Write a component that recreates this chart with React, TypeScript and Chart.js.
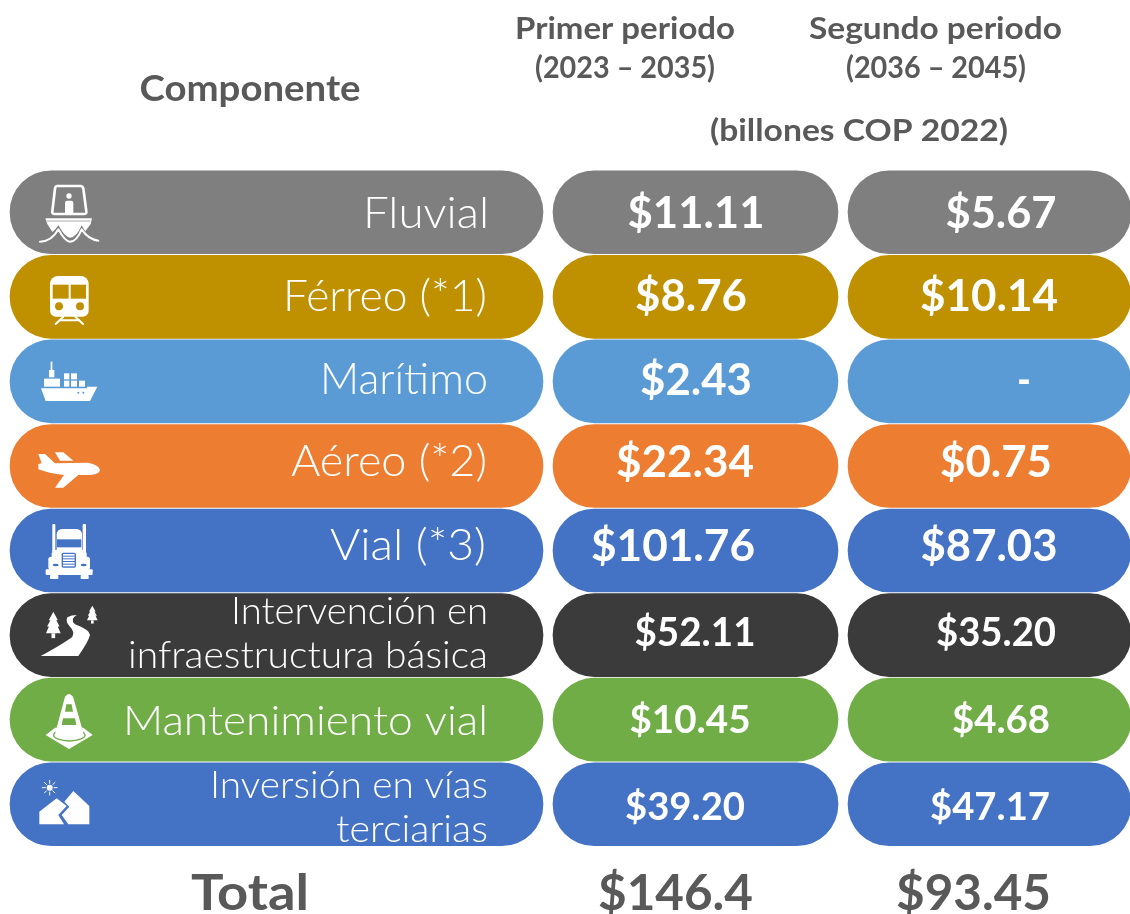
import React, { useEffect, useRef } from "react";
import { Chart, registerables } from "chart.js";

Chart.register(...registerables);

// ---- data ----
const components = ["Fluvial", "Férreo (*1)", "Marítimo", "Aéreo (*2)", "Vial (*3)", "Intervención en infraestructura básica", "Mantenimiento vial", "Inversión en vías terciarias"];
const componentLines = [["Fluvial"], ["Férreo (*1)"], ["Marítimo"], ["Aéreo (*2)"], ["Vial (*3)"], ["Intervención en", "infraestructura básica"], ["Mantenimiento vial"], ["Inversión en vías", "terciarias"]];
const firstPeriod = ["$11.11", "$8.76", "$2.43", "$22.34", "$101.76", "$52.11", "$10.45", "$39.20"];
const secondPeriod = ["$5.67", "$10.14", "-", "$0.75", "$87.03", "$35.20", "$4.68", "$47.17"];
const totals = ["Total", "$146.4", "$93.45"];
const headerComponent = "Componente";
const headerFirst = ["Primer periodo", "(2023 – 2035)"];
const headerSecond = ["Segundo periodo", "(2036 – 2045)"];
const headerUnit = "(billones COP 2022)";

// ---- layout / style ----
const FONT = "Lato, 'Open Sans', sans-serif";
const GREY = "#595959";
const rowColors = ["#7F7F7F", "#BF9000", "#5B9BD5", "#ED7D31", "#4472C4", "#3B3B3B", "#70AD47", "#4472C4"];
const columnSpans: [number, number][] = [[10, 543], [553, 838], [848, 1131]];
const firstCenters = [696, 691, 696, 685, 673, 695, 690, 685];
const secondCenters = [1001, 989, 1024, 996, 989, 996, 1001, 990];
const firstWidths = [137, 112, 112, 138, 164, 121, 121, 120];
const secondWidths = [111, 138, 14, 112, 137, 120, 98, 120];
const valueSizes = [44, 44, 44, 44, 44, 40, 38, 38];
const valueDy = [2, 0, -1, -3, -4, -2, 1, 4];
const labelDy = [2, 0, -2, -4, -5, 0, 2, 5];
const labelRights = [489, 487, 488, 487, 486, 488, 488, 488];
const labelWidths = [126, 204, 168, 196, 156, 257, 365, 278];

type T = { s: string; x: number; y: number; w: number; size: number; weight: number; color: string; align: CanvasTextAlign };

function put(ctx: CanvasRenderingContext2D, t: T) {
  ctx.save();
  ctx.font = `${t.weight} ${t.size}px ${FONT}`;
  ctx.textBaseline = "middle";
  ctx.textAlign = "left";
  ctx.fillStyle = t.color;
  const m = ctx.measureText(t.s).width;
  const k = t.w > 0 ? t.w / m : 1;
  const w = m * k;
  const left = t.align === "center" ? t.x - w / 2 : t.align === "right" ? t.x - w : t.x;
  ctx.translate(left, t.y);
  ctx.scale(k, 1);
  ctx.fillText(t.s, 0, 0);
  ctx.restore();
}

function poly(ctx: CanvasRenderingContext2D, pts: number[]) {
  ctx.beginPath();
  ctx.moveTo(pts[0], pts[1]);
  for (let i = 2; i < pts.length; i += 2) ctx.lineTo(pts[i], pts[i + 1]);
  ctx.closePath();
  ctx.fill();
}
function rect(ctx: CanvasRenderingContext2D, x0: number, y0: number, x1: number, y1: number, r: any = 0) {
  ctx.beginPath();
  ctx.roundRect(x0, y0, x1 - x0, y1 - y0, r);
  ctx.fill();
}
function dot(ctx: CanvasRenderingContext2D, x: number, y: number, r: number) {
  ctx.beginPath();
  ctx.arc(x, y, r, 0, Math.PI * 2);
  ctx.fill();
}
function seg(ctx: CanvasRenderingContext2D, x0: number, y0: number, x1: number, y1: number) {
  ctx.beginPath();
  ctx.moveTo(x0, y0);
  ctx.lineTo(x1, y1);
  ctx.stroke();
}

function tree(ctx: CanvasRenderingContext2D, c: number, top: number, hw: number, h: number) {
  poly(ctx, [c, top, c + hw * 0.62, top + h * 0.4, c + hw * 0.4, top + h * 0.4, c + hw * 0.85, top + h * 0.68, c + hw * 0.6, top + h * 0.68, c + hw, top + h, c - hw, top + h, c - hw * 0.6, top + h * 0.68, c - hw * 0.85, top + h * 0.68, c - hw * 0.4, top + h * 0.4, c - hw * 0.62, top + h * 0.4]);
  rect(ctx, c - hw * 0.25, top + h, c + hw * 0.25, top + h * 1.22);
}

// Icons are written in the 3x space of a crop with its origin at (10, oy).
function drawIcons(ctx: CanvasRenderingContext2D) {
  const W = "#FFFFFF";
  const withCrop = (oy: number, fn: () => void) => {
    ctx.save();
    ctx.translate(10, oy);
    ctx.scale(1 / 3, 1 / 3);
    ctx.fillStyle = W;
    ctx.strokeStyle = W;
    ctx.lineCap = "round";
    ctx.lineJoin = "round";
    fn();
    ctx.restore();
  };
  // boat + train
  withCrop(170, () => {
    ctx.lineWidth = 8;
    ctx.beginPath();
    ctx.moveTo(142, 48); ctx.lineTo(212, 48); ctx.quadraticCurveTo(218, 48, 220, 56);
    ctx.lineTo(229, 124); ctx.quadraticCurveTo(230, 132, 222, 132);
    ctx.lineTo(134, 132); ctx.quadraticCurveTo(126, 132, 127, 124);
    ctx.lineTo(135, 56); ctx.quadraticCurveTo(136, 48, 142, 48); ctx.closePath();
    ctx.stroke();
    dot(ctx, 177, 78, 8);
    rect(ctx, 165, 92, 190, 130, [6, 6, 0, 0]);
    ctx.beginPath();
    ctx.moveTo(106, 145); ctx.lineTo(246, 145); ctx.lineTo(242, 162); ctx.lineTo(226, 184);
    ctx.quadraticCurveTo(220, 176, 215, 166); ctx.quadraticCurveTo(200, 202, 180, 203);
    ctx.quadraticCurveTo(165, 202, 145, 166); ctx.quadraticCurveTo(138, 178, 127, 186);
    ctx.lineTo(112, 162); ctx.closePath(); ctx.fill();
    ctx.beginPath();
    ctx.moveTo(90, 215); ctx.quadraticCurveTo(125, 215, 145, 178);
    ctx.quadraticCurveTo(165, 215, 180, 215); ctx.quadraticCurveTo(200, 215, 215, 178);
    ctx.quadraticCurveTo(235, 208, 265, 212);
    ctx.strokeStyle = W; ctx.lineWidth = 6; ctx.stroke();
    ctx.strokeStyle = rowColors[0]; ctx.lineWidth = 2; seg(ctx, 112, 153, 240, 153);
    // train
    ctx.strokeStyle = W;
    rect(ctx, 120, 318, 236, 440, [24, 24, 18, 18]);
    ctx.fillStyle = rowColors[1];
    rect(ctx, 128, 344, 176, 386);
    rect(ctx, 182, 344, 228, 386);
    dot(ctx, 147, 409, 12);
    dot(ctx, 210, 409, 12);
    ctx.fillStyle = W;
    ctx.lineWidth = 6;
    seg(ctx, 160, 440, 137, 462);
    seg(ctx, 196, 440, 219, 462);
    seg(ctx, 150, 451, 206, 451);
  });
  // ship + plane
  withCrop(340, () => {
    rect(ctx, 122, 65, 127, 90);
    rect(ctx, 117, 90, 133, 112);
    rect(ctx, 102, 116, 150, 140);
    rect(ctx, 162, 100, 178, 118);
    rect(ctx, 183, 100, 201, 118);
    rect(ctx, 162, 122, 178, 140);
    rect(ctx, 183, 122, 201, 140);
    rect(ctx, 207, 122, 225, 140);
    poly(ctx, [93, 145, 230, 145, 232, 140, 262, 140, 240, 183, 107, 183]);
    ctx.fillStyle = rowColors[2];
    dot(ctx, 205, 158, 3);
    dot(ctx, 220, 158, 3);
    ctx.fillStyle = W;
    poly(ctx, [135, 337, 160, 337, 190, 362, 150, 362]);
    ctx.beginPath();
    ctx.moveTo(85, 342); ctx.lineTo(105, 342); ctx.lineTo(135, 370); ctx.lineTo(235, 368);
    ctx.quadraticCurveTo(270, 375, 270, 392); ctx.quadraticCurveTo(262, 405, 235, 405);
    ctx.lineTo(205, 405); ctx.lineTo(160, 443); ctx.lineTo(135, 443); ctx.lineTo(162, 405);
    ctx.quadraticCurveTo(115, 400, 85, 388); ctx.lineTo(85, 372); ctx.lineTo(95, 370); ctx.closePath();
    ctx.fill();
  });
  // truck + road
  withCrop(510, () => {
    rect(ctx, 127, 42, 136, 125, 3);
    rect(ctx, 218, 42, 228, 125, 3);
    rect(ctx, 127, 120, 228, 130);
    rect(ctx, 140, 57, 216, 130, [16, 16, 0, 0]);
    rect(ctx, 115, 140, 240, 180, 8);
    rect(ctx, 125, 128, 230, 145);
    rect(ctx, 107, 178, 248, 195, 3);
    rect(ctx, 120, 195, 145, 207, 2);
    rect(ctx, 212, 195, 236, 207, 2);
    ctx.fillStyle = rowColors[4];
    rect(ctx, 141, 88, 214, 112);
    rect(ctx, 155, 128, 198, 173, 5);
    ctx.beginPath(); ctx.ellipse(137, 165, 9, 4, 0, 0, Math.PI * 2); ctx.fill();
    ctx.beginPath(); ctx.ellipse(221, 165, 9, 4, 0, 0, Math.PI * 2); ctx.fill();
    ctx.fillStyle = W;
    for (const y of [132, 140, 148, 156, 164]) rect(ctx, 159, y, 194, y + 5);
    // road + trees
    tree(ctx, 130, 305, 22, 65);
    tree(ctx, 247, 287, 16, 44);
    ctx.beginPath();
    ctx.moveTo(172, 322); ctx.quadraticCurveTo(185, 315, 200, 315);
    ctx.quadraticCurveTo(178, 328, 195, 343); ctx.quadraticCurveTo(240, 360, 240, 375);
    ctx.quadraticCurveTo(235, 395, 205, 438); ctx.lineTo(92, 438);
    ctx.quadraticCurveTo(170, 395, 187, 380); ctx.quadraticCurveTo(195, 365, 180, 350);
    ctx.quadraticCurveTo(165, 335, 172, 322); ctx.closePath(); ctx.fill();
  });
  // cone + mountains
  withCrop(680, () => {
    poly(ctx, [107, 165, 135, 143, 220, 143, 248, 165, 177, 207]);
    ctx.strokeStyle = rowColors[6];
    ctx.lineWidth = 4;
    ctx.beginPath(); ctx.ellipse(178, 165, 47, 18, 0, 0, Math.PI * 2); ctx.stroke();
    ctx.beginPath();
    ctx.moveTo(165, 50); ctx.quadraticCurveTo(177, 34, 189, 50);
    ctx.lineTo(220, 158); ctx.quadraticCurveTo(178, 186, 136, 158); ctx.closePath();
    ctx.fill();
    ctx.fillStyle = rowColors[6];
    poly(ctx, [169, 73, 185, 73, 189, 95, 165, 95]);
    poly(ctx, [159, 115, 195, 115, 199, 135, 155, 135]);
    ctx.fillStyle = W;
    ctx.strokeStyle = W;
    // sun
    dot(ctx, 119, 323, 9);
    ctx.lineWidth = 3;
    for (let a = 0; a < 8; a++) {
      const r = (a * Math.PI) / 4;
      seg(ctx, 119 + 13 * Math.cos(r), 323 + 13 * Math.sin(r), 119 + 22 * Math.cos(r), 323 + 22 * Math.sin(r));
    }
    poly(ctx, [88, 395, 88, 433, 162, 433, 145, 405, 170, 378, 140, 355]);
    poly(ctx, [163, 365, 190, 333, 238, 378, 238, 433, 175, 433, 155, 405, 178, 380]);
  });
}

const cellSpan = (c: number) => components.map(() => columnSpans[c]);

const tableText = {
  id: "tableText",
  afterDatasetsDraw(chart: any) {
    const ctx: CanvasRenderingContext2D = chart.ctx;
    const yScale = chart.scales.y;
    drawIcons(ctx);
    const g = { color: GREY, align: "center" as CanvasTextAlign, weight: 700 };
    put(ctx, { ...g, s: headerComponent, x: 250, y: 89, w: 221, size: 36 });
    put(ctx, { ...g, s: headerFirst[0], x: 625, y: 29, w: 220, size: 31 });
    put(ctx, { ...g, s: headerFirst[1], x: 625, y: 68, w: 180, size: 31 });
    put(ctx, { ...g, s: headerSecond[0], x: 935.5, y: 29, w: 253, size: 31 });
    put(ctx, { ...g, s: headerSecond[1], x: 936, y: 68, w: 180, size: 31 });
    put(ctx, { ...g, s: headerUnit, x: 859, y: 131, w: 298, size: 31 });
    components.forEach((_, i) => {
      const yc = yScale.getPixelForValue(i);
      const lines = componentLines[i];
      const l = { weight: 300, color: "#FFFFFF", align: "right" as CanvasTextAlign, x: labelRights[i] };
      if (lines.length === 1) {
        put(ctx, { ...l, s: lines[0], y: yc + labelDy[i], w: labelWidths[i], size: i === 6 ? 42 : 44 });
      } else {
        const ws = i === 5 ? [257, 360] : [278, 152];
        put(ctx, { ...l, s: lines[0], y: yc - 23 + labelDy[i], w: ws[0], size: 37 });
        put(ctx, { ...l, s: lines[1], y: yc + 21 + labelDy[i], w: ws[1], size: 37 });
      }
      const v = { weight: 700, color: "#FFFFFF", align: "center" as CanvasTextAlign, size: valueSizes[i], y: yc + valueDy[i] };
      put(ctx, { ...v, s: firstPeriod[i], x: firstCenters[i], w: firstWidths[i] });
      put(ctx, { ...v, s: secondPeriod[i], x: secondCenters[i], w: secondWidths[i] });
    });
    const t = { color: GREY, align: "center" as CanvasTextAlign, weight: 700, size: 50, y: 894 };
    put(ctx, { ...t, s: totals[0], x: 250, w: 118 });
    put(ctx, { ...t, s: totals[1], x: 675.5, w: 155 });
    put(ctx, { ...t, s: totals[2], x: 973.5, w: 155 });
  },
};

export default function App() {
  const ref = useRef<HTMLCanvasElement>(null);
  useEffect(() => {
    document.body.style.margin = "0";
    const chart = new Chart(ref.current!, {
      type: "bar",
      data: {
        labels: components,
        datasets: [0, 1, 2].map((c) => ({
          label: ["Componente", "Primer periodo", "Segundo periodo"][c],
          data: cellSpan(c) as any,
          backgroundColor: rowColors,
          borderRadius: 41.5,
          borderSkipped: false,
          barThickness: 83,
          grouped: false,
        })),
      },
      options: {
        indexAxis: "y",
        animation: false,
        responsive: false,
        layout: { padding: { top: 170, bottom: 67.5, left: 0, right: 0 } },
        plugins: { legend: { display: false }, title: { display: false }, tooltip: { enabled: false } },
        scales: {
          x: { type: "linear", min: 0, max: 1130, display: false },
          y: { type: "category", display: false, offset: true },
        },
      },
      plugins: [tableText],
    });
    return () => chart.destroy();
  }, []);
  return <canvas ref={ref} width={1130} height={914} style={{ display: "block" }} />;
}
